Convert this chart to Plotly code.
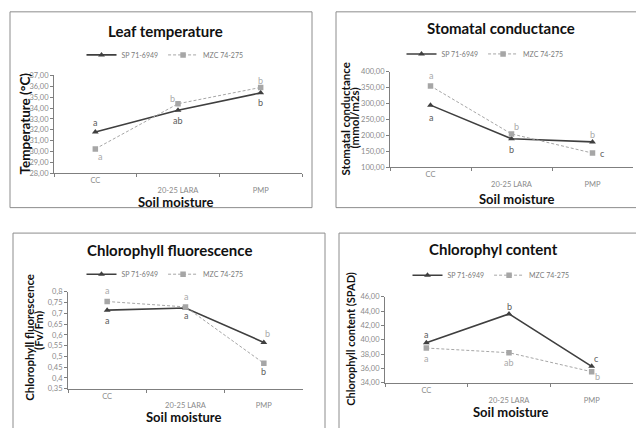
import plotly.graph_objects as go

W, H = 636, 428

# ---------------- data ----------------
categories = ["CC", "20-25 LARA", "PMP"]
series_names = ["SP 71-6949", "MZC 74-275"]

temp_sp = [31.8, 33.8, 35.4]
temp_mzc = [30.25, 34.4, 35.9]
gs_sp = [295, 190, 180]
gs_mzc = [355, 205, 145]
fluo_sp = [0.715, 0.725, 0.565]
fluo_mzc = [0.755, 0.73, 0.468]
chl_sp = [39.6, 43.6, 36.3]
chl_mzc = [38.85, 38.2, 35.55]

temp_sp_letters = ["a", "ab", "b"]
temp_mzc_letters = ["a", "b", "b"]
gs_sp_letters = ["a", "b", "c"]
gs_mzc_letters = ["a", "b", "b"]
fluo_sp_letters = ["a", "a", "b"]
fluo_mzc_letters = ["a", "a", "b"]
chl_sp_letters = ["a", "b", "c"]
chl_mzc_letters = ["a", "ab", "b"]

panel_titles = ["Leaf temperature", "Stomatal conductance",
                "Chlorophyll fluorescence", "Chlorophyl content"]
x_title = "Soil moisture"

# ---------------- helpers ----------------
def px(x):
    return x / W

def py(y):
    return 1 - y / H

SP_COLOR = "#3f3f3f"
MZC_COLOR = "#a6a6a6"
SP_TXT = "#5a5a5a"
MZC_TXT = "#a9a9a9"
AX_COLOR = "#7f7f7f"
FONT = "Lato"

panels = [
    dict(sp=temp_sp, mzc=temp_mzc, spl=temp_sp_letters, mzl=temp_mzc_letters,
         x0=54, x1=302, ytop=73, ybot=173, rng=[28, 37], dtick=1, fmt=".2f",
         title_xy=(165, 28), xt_xy=(175, 202), legend_xy=(165, 52),
         ytitle=[("Temperature (°C)", 25, 122, 13.5)],
         box=(10, 8, 312, 208),
         sp_off=[(0, 10), (0, -10), (0, -10)],
         mz_off=[(5, -8), (-6, 5), (0, 7)]),
    dict(sp=gs_sp, mzc=gs_mzc, spl=gs_sp_letters, mzl=gs_mzc_letters,
         x0=390, x1=633, ytop=69, ybot=167, rng=[100, 400], dtick=50, fmt=".2f",
         title_xy=(501, 25), xt_xy=(516, 199), legend_xy=(485, 51),
         ytitle=[("Stomatal conductance", 346, 118, 11.5), ("(mmol/m2s)", 355, 117, 11.5)],
         box=(336, 8, 640, 208),
         sp_off=[(0, -12), (0, -11), (10, -12)],
         mz_off=[(0, 10), (5, 7), (0, 19)]),
    dict(sp=fluo_sp, mzc=fluo_mzc, spl=fluo_sp_letters, mzl=fluo_mzc_letters,
         x0=68, x1=303, ytop=294, ybot=393, rng=[0.35, 0.8], dtick=0.05, fmt="",
         title_xy=(169, 251), xt_xy=(183, 422), legend_xy=(165, 276),
         ytitle=[("Chlorophyll fluorescence", 30, 341, 11.5), ("(Fv/Fm)", 39, 334, 11.5)],
         box=(13, 234, 325, 440),
         sp_off=[(0, -10), (0, -8), (0, -29)],
         mz_off=[(0, 11), (0, 10), (4, 30)]),
    dict(sp=chl_sp, mzc=chl_mzc, spl=chl_sp_letters, mzl=chl_mzc_letters,
         x0=385, x1=633, ytop=299, ybot=387, rng=[34, 46], dtick=2, fmt=".2f",
         title_xy=(493, 250), xt_xy=(510, 417), legend_xy=(491, 277),
         ytitle=[("Chlorophyll content (SPAD)", 351, 342, 11)],
         box=(339, 234, 640, 440),
         sp_off=[(0, 8), (0, 7), (5, 8)],
         mz_off=[(0, -10), (0, -10), (6, -5)]),
]

fig = go.Figure()
annotations = []
shapes = []
layout = {}

for i, p in enumerate(panels, start=1):
    sfx = "" if i == 1 else str(i)
    xa, ya = "x" + sfx, "y" + sfx
    leg = "legend" + sfx

    fig.add_trace(go.Scatter(
        x=categories, y=p["sp"], name=series_names[0], xaxis=xa, yaxis=ya,
        mode="lines+markers", legend=leg,
        line=dict(color=SP_COLOR, width=1.6),
        marker=dict(symbol="triangle-up", size=6, color=SP_COLOR)))
    fig.add_trace(go.Scatter(
        x=categories, y=p["mzc"], name=series_names[1], xaxis=xa, yaxis=ya,
        mode="lines+markers", legend=leg,
        line=dict(color=MZC_COLOR, width=1, dash="3px,2px"),
        marker=dict(symbol="square", size=5.5, color=MZC_COLOR)))

    layout["xaxis" + sfx] = dict(
        domain=[px(p["x0"]), px(p["x1"])], anchor=ya, type="category",
        range=[-0.5, 2.5], showline=True, linecolor=AX_COLOR, linewidth=1,
        ticks="outside", ticklen=3, tickcolor=AX_COLOR, tickson="boundaries",
        tickmode="array", tickvals=categories,
        ticktext=[categories[0]] + ["<br>" + c for c in categories[1:]],
        tickfont=dict(family=FONT, size=7.5, color="#8a8a8a"),
        showgrid=False, zeroline=False, fixedrange=True)
    layout["yaxis" + sfx] = dict(
        domain=[py(p["ybot"]), py(p["ytop"])], anchor=xa,
        range=p["rng"], dtick=p["dtick"], tick0=p["rng"][0], tickformat=p["fmt"],
        showline=True, linecolor=AX_COLOR, linewidth=1,
        ticks="outside", ticklen=3, tickcolor=AX_COLOR,
        tickfont=dict(family=FONT, size=7.5, color="#8a8a8a"),
        showgrid=False, zeroline=False, fixedrange=True)
    layout[leg] = dict(
        orientation="h", x=px(p["legend_xy"][0]), y=py(p["legend_xy"][1]),
        xanchor="center", yanchor="middle", bgcolor="rgba(0,0,0,0)",
        font=dict(family=FONT, size=7, color="#7a7a7a"),
        itemwidth=30, tracegroupgap=0)

    # panel title
    annotations.append(dict(
        text="<b>" + panel_titles[i - 1] + "</b>", x=px(p["title_xy"][0]), y=py(p["title_xy"][1]),
        xref="paper", yref="paper", showarrow=False, xanchor="center", yanchor="middle",
        font=dict(family=FONT, size=15, color="#111111")))
    # x title
    annotations.append(dict(
        text="<b>" + x_title + "</b>", x=px(p["xt_xy"][0]), y=py(p["xt_xy"][1]),
        xref="paper", yref="paper", showarrow=False, xanchor="center", yanchor="middle",
        font=dict(family=FONT, size=13, color="#111111")))
    # y title(s)
    for txt, tx, ty, fs in p["ytitle"]:
        annotations.append(dict(
            text="<b>" + txt + "</b>", x=px(tx), y=py(ty), textangle=-90,
            xref="paper", yref="paper", showarrow=False, xanchor="center", yanchor="middle",
            font=dict(family=FONT, size=fs, color="#111111")))
    # significance letters
    for vals, lets, offs, col in ((p["sp"], p["spl"], p["sp_off"], SP_TXT),
                                  (p["mzc"], p["mzl"], p["mz_off"], MZC_TXT)):
        for c, v, l, (dx, dy) in zip(categories, vals, lets, offs):
            annotations.append(dict(
                text=l, x=c, y=v, xref=xa, yref=ya, showarrow=False,
                xshift=dx, yshift=dy, xanchor="center", yanchor="middle",
                font=dict(family=FONT, size=9, color=col)))
    # border box
    bx0, by0, bx1, by1 = p["box"]
    shapes.append(dict(type="rect", xref="paper", yref="paper",
                       x0=px(bx0), x1=px(bx1), y0=py(by1), y1=py(by0),
                       line=dict(color="#8c8c8c", width=1), layer="below"))

fig.update_layout(
    width=W, height=H, margin=dict(l=0, r=0, t=0, b=0),
    paper_bgcolor="white", plot_bgcolor="white",
    separators=",.", annotations=annotations, shapes=shapes,
    font=dict(family=FONT), **layout)

fig.write_html("out.html")
